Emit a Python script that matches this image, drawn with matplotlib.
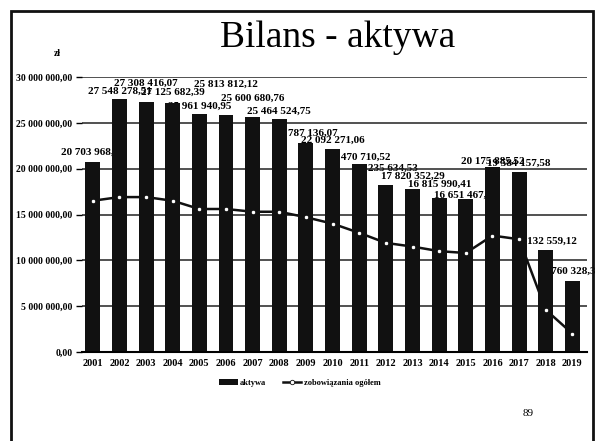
import numpy as np
import matplotlib.pyplot as plt
from matplotlib.patches import Rectangle

plt.rcParams['font.family'] = ['Liberation Serif', 'DejaVu Serif']

years = ['2001', '2002', '2003', '2004', '2005', '2006', '2007', '2008', '2009', '2010',
         '2011', '2012', '2013', '2014', '2015', '2016', '2017', '2018', '2019']
aktywa = [20703968.60, 27548278.51, 27308416.07, 27125682.39, 25961940.95, 25813812.12,
          25600680.76, 25464524.75, 22787136.07, 22092271.06, 20470710.52, 18235634.53,
          17820352.29, 16815990.41, 16651467.20, 20175885.52, 19584157.58, 11132559.12,
          7760328.38]
zobowiazania = [16.5e6, 16.9e6, 16.9e6, 16.5e6, 15.6e6, 15.6e6, 15.3e6, 15.3e6, 14.7e6, 14.0e6,
                13.0e6, 11.9e6, 11.5e6, 11.0e6, 10.8e6, 12.7e6, 12.3e6, 4.6e6, 2.0e6]
yticks = [0, 5e6, 10e6, 15e6, 20e6, 25e6, 30e6]

# label heights above the bar tops (pixels), staggered like on the slide
label_dy = [10, 8, 18, 11, 8, 31, 19, 7, 10, 9, 7, 17, 12, 14, 4, 6, 9, 9, 10]


def pl(v, dec=2):
    s = f'{v:,.{dec}f}'
    return s.replace(',', ' ').replace('.', ',')


fig = plt.figure(figsize=(5.95, 4.41), dpi=100)
ax = fig.add_axes([0.138, 0.2018, 0.8487, 0.6236])

x = np.arange(len(years))
bars = ax.bar(x, aktywa, width=0.56, color='#111111', zorder=3, label='aktywa')
line, = ax.plot(x, zobowiazania, '-', color='#111111', lw=1.8, marker='o', ms=3.2,
                mfc='white', mec='#111111', mew=0.6, zorder=4, label='zobowiązania ogółem')

for i, v in enumerate(aktywa):
    ax.annotate(pl(v), (x[i], v), xytext=(0, label_dy[i]), textcoords='offset pixels',
                ha='center', va='center', fontsize=8, fontweight='bold',
                zorder=1, annotation_clip=False)

ax.set_xlim(-0.4, 18.55)
ax.set_ylim(0, 30e6)
ax.set_yticks(yticks)
ax.set_yticklabels([pl(t) for t in yticks], fontsize=7, fontweight='bold')
ax.set_xticks(x)
ax.set_xticklabels(years, fontsize=7.5, fontweight='bold')
ax.tick_params(axis='x', length=0, pad=5)
ax.tick_params(axis='y', length=4, width=1, pad=3)
ax.yaxis.grid(True, color='#222222', lw=1.1, zorder=2)
ax.set_axisbelow(False)
for s in ['left', 'right', 'top']:
    ax.spines[s].set_visible(False)
ax.spines['bottom'].set_linewidth(1.5)
ax.spines['bottom'].set_zorder(5)

ax.legend([bars, line], ['aktywa', 'zobowiązania ogółem'], loc='center',
          bbox_to_anchor=(300 / 595, 1 - 383 / 441),
          bbox_transform=fig.transFigure, ncol=2, frameon=False,
          prop={'size': 6, 'weight': 'bold'}, handlelength=2.2, columnspacing=2,
          handletextpad=0.3)

fig.text(338 / 595, 1 - 38 / 441, 'Bilans - aktywa', fontsize=27, ha='center', va='center')
fig.text(57 / 595, 1 - 53 / 441, 'zł', fontsize=7, fontweight='bold', ha='center', va='center')
fig.text(528 / 595, 1 - 413 / 441, '89', fontsize=8, ha='center', va='center')

fig.patches.append(Rectangle((11 / 595, -0.1), (593 - 11) / 595, 1 - 11 / 441 + 0.1,
                             transform=fig.transFigure, fill=False, lw=2, ec='#111111'))

fig.savefig('out.png', dpi=100)
